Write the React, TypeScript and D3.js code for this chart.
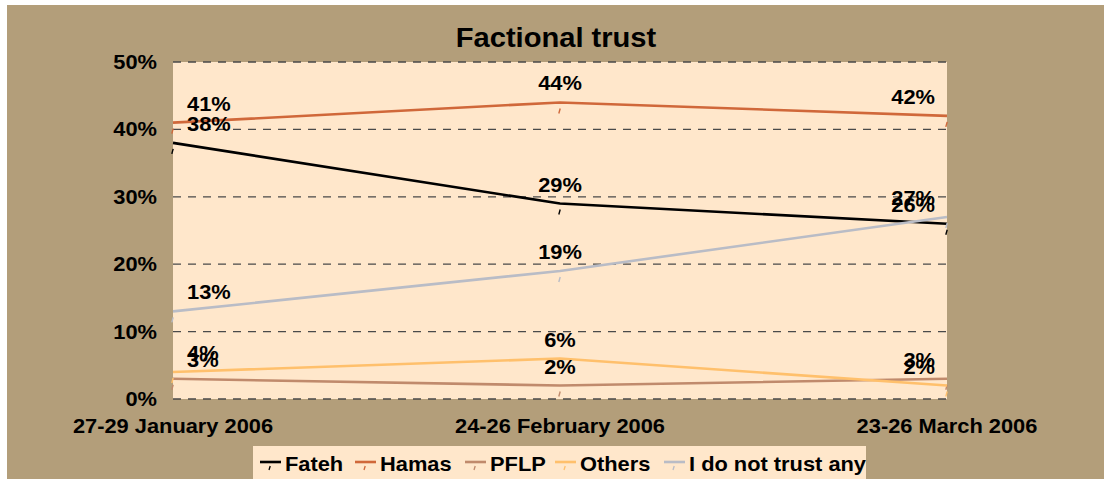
import { useMemo } from "react";
import { scalePoint, scaleLinear, line } from "d3";

const categories = ["27-29 January 2006", "24-26 February 2006", "23-26 March 2006"];
const seriesNames = ["Fateh", "Hamas", "PFLP", "Others", "I do not trust any"];
const fateh = [38, 29, 26];
const hamas = [41, 44, 42];
const pflp = [3, 2, 3];
const others = [4, 6, 2];
const noTrust = [13, 19, 27];
const yTicks = [0, 10, 20, 30, 40, 50];

const COLORS = ["#000000", "#D0683A", "#C08A6C", "#FFC06C", "#B9BCC6"];
const FONT = "'Liberation Sans', Arial, Helvetica, sans-serif";

const W = 1104;
const H = 479;
const PLOT = { left: 173, right: 947, top: 62, bottom: 399 };
const SX = 1.04; // glyphs in the original are a little wider than tall

function T({
  x,
  y,
  size = 21,
  anchor = "start",
  children,
}: {
  x: number;
  y: number;
  size?: number;
  anchor?: "start" | "middle" | "end";
  children: React.ReactNode;
}) {
  return (
    <text
      transform={`translate(${x},${y}) scale(${SX},1)`}
      textAnchor={anchor}
      fontSize={size}
      fill="#000"
    >
      {children}
    </text>
  );
}

export default function App() {
  const series = [fateh, hamas, pflp, others, noTrust];

  const x = useMemo(
    () => scalePoint<string>().domain(categories).range([PLOT.left, PLOT.right]).padding(0),
    []
  );
  const y = useMemo(() => scaleLinear().domain([0, 50]).range([PLOT.bottom, PLOT.top]), []);
  const lineGen = line<number>()
    .x((_, i) => x(categories[i]) ?? 0)
    .y((d) => y(d));

  const legendWidths = [58, 73, 53, 72, 178];
  let lx = 260;
  const legendItems = seriesNames.map((name, i) => {
    const item = { name, x: lx, color: COLORS[i] };
    lx += 25 + legendWidths[i] + 12;
    return item;
  });

  return (
    <svg
      width={W}
      height={H}
      style={{ position: "absolute", left: 0, top: 0 }}
      fontFamily={FONT}
      fontWeight="bold"
    >
      <rect x={0} y={0} width={W} height={H} fill="#ffffff" />
      <rect x={7} y={5} width={W - 7} height={H - 5} fill="#B39E7A" />

      {/* title */}
      <T x={556} y={47} size={28} anchor="middle">
        Factional trust
      </T>

      {/* plot area */}
      <rect
        x={PLOT.left}
        y={PLOT.top}
        width={PLOT.right - PLOT.left}
        height={PLOT.bottom - PLOT.top}
        fill="#FFE7CB"
      />
      {yTicks.map((t) => (
        <g key={t}>
          <line
            x1={PLOT.left}
            x2={PLOT.right}
            y1={y(t)}
            y2={y(t)}
            stroke="#4a4a4a"
            strokeWidth={1.3}
            strokeDasharray="8,7"
          />
          <T x={157} y={y(t) + 7} anchor="end">
            {t}%
          </T>
        </g>
      ))}

      {/* x labels */}
      {categories.map((c) => (
        <T key={c} x={x(c) ?? 0} y={433} anchor="middle">
          {c}
        </T>
      ))}

      {/* lines */}
      {series.map((vals, si) => (
        <g key={seriesNames[si]}>
          <path d={lineGen(vals) ?? ""} fill="none" stroke={COLORS[si]} strokeWidth={2.6} />
          {vals.map((v, i) => {
            const px = x(categories[i]) ?? 0;
            const py = y(v);
            return (
              <path
                key={i}
                d={`M${px - 1.2},${py + 11} L${px + 0.2},${py + 6}`}
                stroke={COLORS[si]}
                strokeWidth={1.4}
              />
            );
          })}
        </g>
      ))}

      {/* data labels */}
      {series.map((vals, si) =>
        vals.map((v, i) => {
          const px = x(categories[i]) ?? 0;
          const anchor = i === 0 ? "start" : i === vals.length - 1 ? "end" : "middle";
          const tx = i === 0 ? PLOT.left + 14 : i === vals.length - 1 ? PLOT.right - 12 : px;
          return (
            <T key={`${si}-${i}`} x={tx} y={y(v) - 12} anchor={anchor}>
              {v}%
            </T>
          );
        })
      )}

      {/* legend */}
      <rect x={253} y={446} width={613} height={40} fill="#FFE7CB" />
      {legendItems.map((it) => (
        <g key={it.name}>
          <line x1={it.x} x2={it.x + 21} y1={462} y2={462} stroke={it.color} strokeWidth={2.6} />
          <path
            d={`M${it.x + 9},${470} L${it.x + 10.2},${466}`}
            stroke={it.color}
            strokeWidth={1.3}
          />
          <T x={it.x + 25} y={471}>
            {it.name}
          </T>
        </g>
      ))}
    </svg>
  );
}
